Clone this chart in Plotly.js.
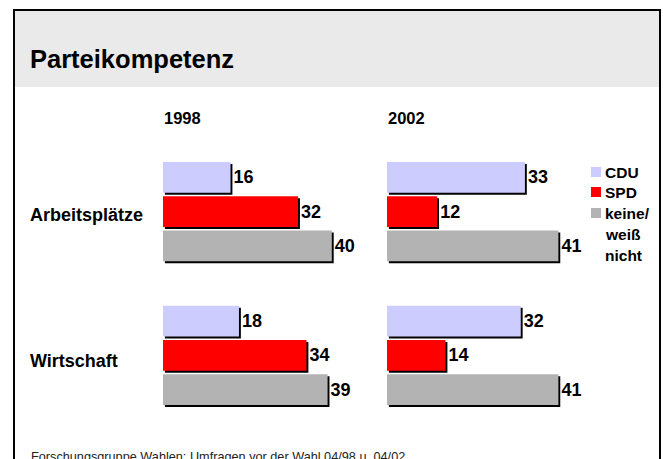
<!DOCTYPE html>
<html>
<head>
<meta charset="utf-8">
<script src="https://cdn.plot.ly/plotly-3.0.1.min.js"></script>
<style>
html,body{margin:0;padding:0;background:#fff;overflow:hidden;}
#chart{width:663px;height:459px;}
</style>
</head>
<body>
<div id="chart"></div>
<script>
// ---- data ----
const categories = ['Arbeitsplätze', 'Wirtschaft'];
const years = ['1998', '2002'];
const parties = ['CDU', 'SPD', 'keine/<br>weiß<br>nicht'];
const cdu1998 = [16, 18];
const spd1998 = [32, 34];
const keine1998 = [40, 39];
const cdu2002 = [33, 32];
const spd2002 = [12, 14];
const keine2002 = [41, 41];
const colors = ['#ccccff', '#ff0000', '#b3b3b3'];
const footer = 'Forschungsgruppe Wahlen: Umfragen vor der Wahl 04/98 u. 04/02';

// ---- layout helpers ----
const W = 663, H = 459;
const plotTop = 109, plotBottom = 434;
const FONT = 'Liberation Sans, Arial, sans-serif';
const xp = px => px / W;
const yp = py => (plotBottom - py) / (plotBottom - plotTop);
const groupGap = 4.2;
const pos = (cat, s) => cat * groupGap + s;

const seriesByYear = [
  [cdu1998, spd1998, keine1998],
  [cdu2002, spd2002, keine2002]
];

const traces = [];
seriesByYear.forEach((series, yi) => {
  const xa = yi === 0 ? 'x' : 'x2';
  series.forEach((vals, si) => {
    const ys = categories.map((c, ci) => pos(ci, si));
    // shadow
    traces.push({
      type: 'bar', orientation: 'h', xaxis: xa, yaxis: 'y',
      x: vals, y: ys.map(v => v + 0.06), base: 0.45, width: 0.9,
      marker: {color: '#000000'}, showlegend: false, hoverinfo: 'skip'
    });
    // bar
    traces.push({
      type: 'bar', orientation: 'h', xaxis: xa, yaxis: 'y',
      x: vals, y: ys, width: 0.9,
      marker: {color: colors[si]},
      name: parties[si], showlegend: false,
      text: vals.map(String), texttemplate: '<b>%{x}</b>',
      textposition: 'outside', cliponaxis: false,
      textfont: {family: FONT, size: 18, color: '#000'},
      hoverinfo: 'skip'
    });
  });
});

const shapes = [
  {type: 'rect', xref: 'paper', yref: 'paper', x0: xp(15), x1: xp(660), y0: yp(87), y1: yp(10),
   fillcolor: '#eaeaea', line: {width: 0}, layer: 'below'},
  {type: 'line', xref: 'paper', yref: 'paper', x0: xp(14), x1: xp(14), y0: yp(9), y1: yp(470),
   line: {color: '#000', width: 2}},
  {type: 'line', xref: 'paper', yref: 'paper', x0: xp(13), x1: xp(661), y0: yp(10), y1: yp(10),
   line: {color: '#000', width: 2}},
  {type: 'line', xref: 'paper', yref: 'paper', x0: xp(660), x1: xp(660), y0: yp(9), y1: yp(470),
   line: {color: '#000', width: 2}}
];

// legend squares + text
const legendY = [[172], [192], [213, 234, 255]];
const catLabelY = [215, 361];
const annotations = [
  {xref: 'paper', yref: 'paper', x: xp(28), y: yp(59), xanchor: 'left', yanchor: 'middle',
   text: '<b>Parteikompetenz</b>', showarrow: false, font: {family: FONT, size: 25.5, color: '#000'}},
  {xref: 'paper', yref: 'paper', x: xp(162), y: yp(118), xanchor: 'left', yanchor: 'middle',
   text: '<b>' + years[0] + '</b>', showarrow: false, font: {family: FONT, size: 16.5, color: '#000'}},
  {xref: 'paper', yref: 'paper', x: xp(386), y: yp(118), xanchor: 'left', yanchor: 'middle',
   text: '<b>' + years[1] + '</b>', showarrow: false, font: {family: FONT, size: 16.5, color: '#000'}},
  {xref: 'paper', yref: 'paper', x: xp(29), y: yp(457), xanchor: 'left', yanchor: 'middle',
   text: footer, showarrow: false, font: {family: FONT, size: 12.7, color: '#222'}}
];
categories.forEach((c, ci) => {
  annotations.push({xref: 'paper', yref: 'paper', x: xp(28), y: yp(catLabelY[ci]), xanchor: 'left', yanchor: 'middle',
    text: '<b>' + c + '</b>', showarrow: false, font: {family: FONT, size: 18, color: '#000'}});
});
parties.forEach((p, si) => {
  const ly = legendY[si];
  shapes.push({type: 'rect', xref: 'paper', yref: 'paper', x0: xp(591), x1: xp(601),
    y0: yp(ly[0] + 5), y1: yp(ly[0] - 5), fillcolor: colors[si], line: {width: 0}});
  p.split('<br>').forEach((t, li) => {
    annotations.push({xref: 'paper', yref: 'paper', x: xp(603), y: yp(ly[li]), xanchor: 'left', yanchor: 'middle',
      text: '<b>' + t + '</b>', showarrow: false, font: {family: FONT, size: 15.5, color: '#000'}});
  });
});

const layout = {
  width: W, height: H,
  margin: {l: 0, r: 0, t: plotTop, b: H - plotBottom, pad: 0},
  paper_bgcolor: '#ffffff', plot_bgcolor: 'rgba(0,0,0,0)',
  barmode: 'overlay', showlegend: false,
  xaxis: {domain: [xp(163), xp(163 + 50 * 4.22)], range: [0, 50], visible: false, fixedrange: true},
  xaxis2: {domain: [xp(387), xp(387 + 50 * 4.18)], range: [0, 50], visible: false, fixedrange: true, anchor: 'y'},
  yaxis: {range: [7.5, -2], visible: false, fixedrange: true},
  shapes: shapes,
  annotations: annotations,
  font: {family: FONT}
};

Plotly.newPlot('chart', traces, layout, {displayModeBar: false, staticPlot: true});
</script>
</body>
</html>
